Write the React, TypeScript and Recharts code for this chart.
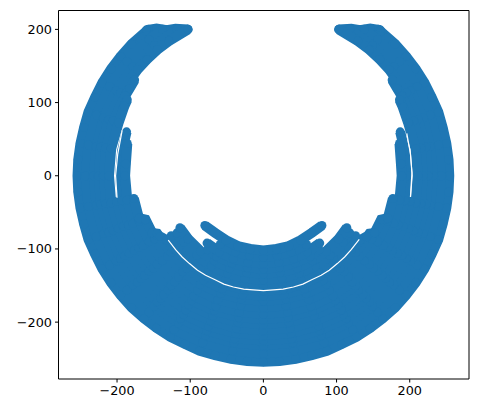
import React from "react";
import { ScatterChart, Scatter, XAxis, YAxis, ZAxis } from "recharts";

type P = [number, number];
const BLUE = "#1f77b4";
const xTicks = [-200, -100, 0, 100, 200];
const yTicks = [-200, -100, 0, 100, 200];

const ring254: P[] = [[-157,200],[-180,180],[-195,163],[-208,146],[-220,127],[-230,107],[-239,87],[-245,66],[-250,44],[-253,22],[-254,0],[-253,-22],[-250,-44],[-245,-66],[-239,-87],[-230,-107],[-220,-127],[-208,-146],[-195,-163],[-180,-180],[-163,-195],[-146,-208],[-127,-220],[-107,-230],[-87,-239],[-66,-245],[-44,-250],[-22,-253],[0,-254],[22,-253],[44,-250],[66,-245],[87,-239],[107,-230],[127,-220],[146,-208],[163,-195],[180,-180],[195,-163],[208,-146],[220,-127],[230,-107],[239,-87],[245,-66],[250,-44],[253,-22],[254,0],[253,22],[250,44],[245,66],[239,87],[230,107],[220,127],[208,146],[195,163],[180,180],[157,200]];
const armTopLeft: P[] = [[-160,199],[-146,201],[-132,199],[-120,201],[-103,200]];
const armTopRight: P[] = [[103,200],[120,201],[132,199],[146,201],[160,199]];
const armFillLeft: P[] = [[-168,188],[-150,192],[-130,192],[-112,196]];
const armFillRight: P[] = [[112,196],[130,192],[150,192],[168,188]];
const ring243: P[] = [[-138,200],[-156,186],[-186,156],[-210,122],[-228,83],[-239,42],[-243,0],[-239,-42],[-228,-83],[-210,-122],[-186,-156],[-156,-186],[-122,-210],[-83,-228],[-42,-239],[0,-243],[42,-239],[83,-228],[122,-210],[156,-186],[186,-156],[210,-122],[228,-83],[239,-42],[243,0],[239,42],[228,83],[210,122],[186,156],[156,186],[138,200]];
const ring232: P[] = [[-118,200],[-149,178],[-178,149],[-201,116],[-218,79],[-228,40],[-232,0],[-228,-40],[-218,-79],[-201,-116],[-178,-149],[-149,-178],[-116,-201],[-79,-218],[-40,-228],[0,-232],[40,-228],[79,-218],[116,-201],[149,-178],[178,-149],[201,-116],[218,-79],[228,-40],[232,0],[228,40],[218,79],[201,116],[178,149],[149,178],[118,200]];
const ring225: P[] = [[-103,200],[-129,184],[-145,172],[-159,159],[-172,145],[-195,113],[-211,77],[-222,39],[-225,0],[-222,-39],[-211,-77],[-195,-113],[-172,-145],[-145,-172],[-113,-195],[-77,-211],[-39,-222],[0,-225],[39,-222],[77,-211],[113,-195],[145,-172],[172,-145],[195,-113],[211,-77],[222,-39],[225,0],[222,39],[211,77],[195,113],[172,145],[159,159],[145,172],[129,184],[103,200]];
const ring218: P[] = [[-176,131],[-183,119],[-189,109],[-205,75],[-215,38],[-218,0],[-215,-38],[-205,-75],[-189,-109],[-167,-140],[-140,-167],[-109,-189],[-75,-205],[-38,-215],[0,-218],[38,-215],[75,-205],[109,-189],[140,-167],[167,-140],[189,-109],[205,-75],[215,-38],[218,0],[215,38],[205,75],[189,109],[183,119],[176,131]];
const ring211: P[] = [[-186,104],[-190,95],[-198,72],[-208,37],[-211,0],[-208,-37],[-198,-72],[-183,-106],[-162,-136],[-136,-162],[-106,-183],[-72,-198],[-37,-208],[0,-211],[37,-208],[72,-198],[106,-183],[136,-162],[162,-136],[183,-106],[198,-72],[208,-37],[211,0],[208,37],[198,72],[190,95],[186,104]];
const ring203: P[] = [[-200,-35],[-191,-69],[-176,-102],[-156,-130],[-130,-156],[-102,-176],[-69,-191],[-35,-200],[0,-203],[35,-200],[69,-191],[102,-176],[130,-156],[156,-130],[176,-102],[191,-69],[200,-35]];
const ring196: P[] = [[-187,60],[-193,34],[-196,0],[-193,-34],[-184,-67],[-170,-98],[-150,-126],[-126,-150],[-98,-170],[-67,-184],[-34,-193],[0,-196],[34,-193],[67,-184],[98,-170],[126,-150],[150,-126],[170,-98],[184,-67],[193,-34],[196,0],[193,34],[187,60]];
const ring189: P[] = [[-186,44],[-188,16],[-189,0],[-186,-33],[-178,-65],[-164,-95],[-145,-121],[-121,-145],[-95,-164],[-65,-178],[-33,-186],[0,-189],[33,-186],[65,-178],[95,-164],[121,-145],[145,-121],[164,-95],[178,-65],[186,-33],[189,0],[188,16],[186,44]];
const ring180: P[] = [[-177,-31],[-169,-62],[-156,-90],[-138,-116],[-116,-138],[-90,-156],[-62,-169],[-31,-177],[0,-180],[31,-177],[62,-169],[90,-156],[116,-138],[138,-116],[156,-90],[169,-62],[177,-31]];
const ring171: P[] = [[-170,-58],[-161,-60],[-148,-86],[-131,-110],[-110,-131],[-86,-148],[-58,-161],[-30,-168],[0,-171],[30,-168],[58,-161],[86,-148],[110,-131],[131,-110],[148,-86],[161,-60],[170,-58]];
const ring164: P[] = [[-152,-78],[-145,-79],[-126,-105],[-105,-126],[-82,-142],[-56,-154],[-28,-162],[0,-164],[28,-162],[56,-154],[82,-142],[105,-126],[126,-105],[145,-79],[152,-78]];
const ring157: P[] = [[-141,-83],[-132,-88],[-120,-101],[-101,-120],[-79,-136],[-54,-148],[-27,-155],[0,-157],[27,-155],[54,-148],[79,-136],[101,-120],[120,-101],[132,-88],[141,-83]];
const ring150: P[] = [[-126,-82],[-115,-96],[-96,-115],[-75,-130],[-51,-141],[-26,-148],[0,-150],[26,-148],[51,-141],[75,-130],[96,-115],[115,-96],[126,-82]];
const ring142: P[] = [[-118,-78],[-109,-91],[-91,-109],[-71,-123],[-49,-133],[-25,-140],[0,-142],[25,-140],[49,-133],[71,-123],[91,-109],[109,-91],[118,-78]];
const ring134: P[] = [[-114,-71],[-103,-86],[-86,-103],[-67,-116],[-46,-126],[-23,-132],[0,-134],[23,-132],[46,-126],[67,-116],[86,-103],[103,-86],[114,-71]];
const ring127: P[] = [[-76,-101],[-64,-110],[-43,-119],[-22,-125],[0,-127],[22,-125],[43,-119],[64,-110],[76,-101]];
const ring120: P[] = [[-77,-92],[-60,-104],[-41,-113],[-21,-118],[0,-120],[21,-118],[41,-113],[60,-104],[77,-92]];
const ring111: P[] = [[-59,-94],[-38,-104],[-19,-109],[0,-111],[19,-109],[38,-104],[59,-94]];
const ring102: P[] = [[-80,-68],[-66,-78],[-51,-88],[-35,-96],[-18,-100],[0,-102],[18,-100],[35,-96],[51,-88],[66,-78],[80,-68]];

const gapLeft: P[] = [[-193,62],[-199,30],[-202,0],[-200,-30]];
const gapRight: P[] = [[196,58],[201,30],[203,4],[201,-29]];
const gapBottom: P[] = [[-130,-88],[-120,-101],[-111,-111],[-101,-120],[-90,-129],[-79,-136],[-66,-142],[-54,-148],[-41,-152],[-27,-155],[-14,-156],[0,-157],[14,-156],[27,-155],[41,-152],[54,-148],[66,-142],[79,-136],[90,-129],[101,-120],[111,-111],[120,-101],[131,-87]];

const rings: P[][] = [ring254, armTopLeft, armTopRight, armFillLeft, armFillRight, ring243, ring232, ring225, ring218, ring211, ring203, ring196, ring189, ring180, ring171, ring164, ring157, ring150, ring142, ring134, ring127, ring120, ring111, ring102];
const gaps: P[][] = [gapLeft, gapRight, gapBottom];

const toRows = (pts: P[]) => pts.map(([x, y]) => ({ x, y }));
const fmt = (v: number) => String(v).replace("-", "\u2212");
const tickStyle = { fontSize: 12.8, fontFamily: "DejaVu Sans", fill: "#000" };
const axisLine = { stroke: "#000", strokeWidth: 1 };
const noDot = () => <g />;

export default function App() {
  return (
    <div style={{ position: "absolute", left: 0, top: 0, width: 479, height: 413, background: "#fff" }}>
      <ScatterChart width={479} height={413} margin={{ top: 0, right: 0, bottom: 0, left: 0 }}>
        <XAxis type="number" dataKey="x" domain={[-280, 281]} ticks={xTicks} tickFormatter={fmt} interval={0}
          height={34} tick={tickStyle} tickSize={3.5} tickMargin={3} axisLine={axisLine} tickLine={axisLine} />
        <XAxis xAxisId="top" orientation="top" type="number" dataKey="x" domain={[-280, 281]} height={10.5}
          tick={false} tickLine={false} axisLine={axisLine} />
        <YAxis type="number" dataKey="y" domain={[-277.7, 225.8]} ticks={yTicks} tickFormatter={fmt} interval={0}
          width={58.5} tick={tickStyle} tickSize={3.5} tickMargin={3} axisLine={axisLine} tickLine={axisLine} />
        <YAxis yAxisId="right" orientation="right" type="number" dataKey="y" domain={[-277.7, 225.8]} width={10}
          tick={false} tickLine={false} axisLine={axisLine} />
        <ZAxis range={[79, 79]} />
        {rings.map((r, i) => (
          <Scatter key={`ring${i}`} data={toRows(r)} fill={BLUE} isAnimationActive={false}
            line={{ stroke: BLUE, strokeWidth: 10 }} lineType="joint" />
        ))}
        {gaps.map((g, i) => (
          <Scatter key={`gap${i}`} data={toRows(g)} fill="#fff" isAnimationActive={false} shape={noDot}
            line={{ stroke: "#fff", strokeWidth: 1.2 }} lineType="joint" />
        ))}
      </ScatterChart>
    </div>
  );
}
